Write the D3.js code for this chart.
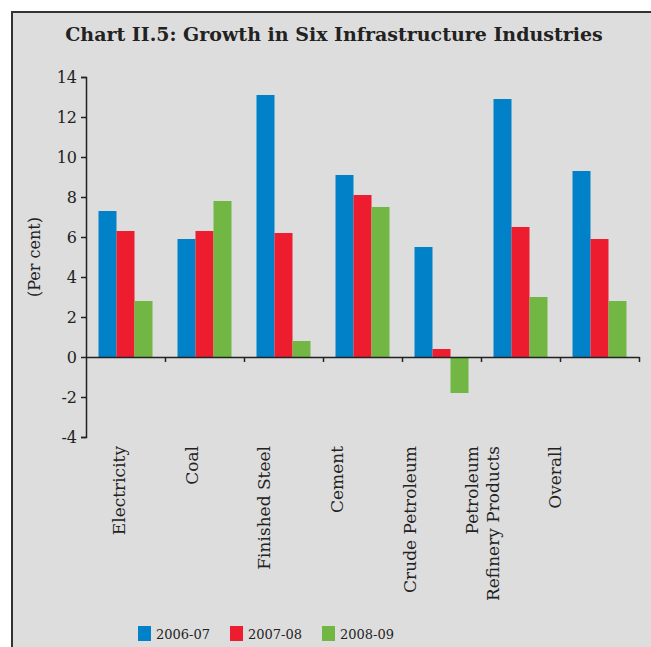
<!DOCTYPE html>
<html>
<head>
<meta charset="utf-8">
<script src="https://cdn.jsdelivr.net/npm/d3@7"></script>
<style>
  body { margin: 0; background: #fff; }
  text { font-family: "DejaVu Serif", serif; fill: #222; }
</style>
</head>
<body>
<div id="chart"></div>
<script>
// data
var categories = ["Electricity", "Coal", "Finished Steel", "Cement", "Crude Petroleum", "Petroleum Refinery Products", "Overall"];
var categoryLines = [["Electricity"], ["Coal"], ["Finished Steel"], ["Cement"], ["Crude Petroleum"], ["Petroleum", "Refinery Products"], ["Overall"]];
var seriesNames = ["2006-07", "2007-08", "2008-09"];
var values0607 = [7.3, 5.9, 13.1, 9.1, 5.5, 12.9, 9.3];
var values0708 = [6.3, 6.3, 6.2, 8.1, 0.4, 6.5, 5.9];
var values0809 = [2.8, 7.8, 0.8, 7.5, -1.8, 3.0, 2.8];
var yTicks = [-4, -2, 0, 2, 4, 6, 8, 10, 12, 14];

var colors = ["#0181c7", "#ee1c2f", "#72b744"];
var W = 651, H = 647;

var svg = d3.select("#chart").append("svg")
    .attr("width", W).attr("height", H);

// panel
svg.append("rect")
    .attr("x", 12).attr("y", 12)
    .attr("width", W + 10).attr("height", H + 10)
    .attr("fill", "#dddddd")
    .attr("stroke", "#333").attr("stroke-width", 2);

// title
svg.append("text")
    .attr("x", 334).attr("y", 41)
    .attr("text-anchor", "middle")
    .style("font-size", "19px")
    .style("font-weight", "bold")
    .text("Chart II.5: Growth in Six Infrastructure Industries");

// scales
var x0 = d3.scaleBand().domain(categories).range([86, 639]);
var x1 = d3.scaleBand().domain(seriesNames).range([0, 54]);
var groupOff = (x0.bandwidth() - 54) / 2;
var y = d3.scaleLinear().domain([-4, 14]).range([437, 77]);
// label positions in the original sit a little left of the bars
var xLabel = d3.scaleBand().domain(categories).range([83, 591]);

var table = categories.map(function(c, i) {
    return { cat: c, vals: [values0607[i], values0708[i], values0809[i]] };
});

// bars
var groups = svg.selectAll(".grp").data(table).enter().append("g")
    .attr("transform", function(d) { return "translate(" + (x0(d.cat) + groupOff) + ",0)"; });
groups.selectAll("rect")
    .data(function(d) { return d.vals.map(function(v, j) { return { s: seriesNames[j], v: v, j: j }; }); })
    .enter().append("rect")
    .attr("x", function(d) { return x1(d.s); })
    .attr("width", x1.bandwidth())
    .attr("y", function(d) { return y(Math.max(0, d.v)); })
    .attr("height", function(d) { return Math.abs(y(d.v) - y(0)); })
    .attr("fill", function(d) { return colors[d.j]; });

// y axis
var yAxis = d3.axisLeft(y).tickValues(yTicks).tickSize(5).tickPadding(4)
    .tickFormat(function(d) { return String(d); });
var yg = svg.append("g").attr("transform", "translate(86,0)").call(yAxis);
yg.selectAll("text").style("font-size", "16px").style("font-family", "DejaVu Serif, serif").attr("fill", "#222");
yg.selectAll("line, path").attr("stroke", "#222").attr("stroke-width", 1.5);

// zero line with separators
var xi = d3.scaleLinear().domain([0, 7]).range([86, 639]);
var xg = svg.append("g").attr("transform", "translate(0," + y(0) + ")")
    .call(d3.axisBottom(xi).tickValues([1, 2, 3, 4, 5, 6, 7]).tickFormat("").tickSize(5).tickSizeOuter(0));
xg.selectAll("line, path").attr("stroke", "#222").attr("stroke-width", 1.5);

// category labels
categoryLines.forEach(function(lines, i) {
    var cx = xLabel(categories[i]) + xLabel.bandwidth() / 2;
    var n = lines.length;
    lines.forEach(function(line, k) {
        var off = (k - (n - 1) / 2) * 21;
        svg.append("text")
            .attr("transform", "translate(" + (cx + off + 6) + ",446) rotate(-90)")
            .attr("text-anchor", "end")
            .style("font-size", "17px")
            .text(line);
    });
});

// y label
svg.append("text")
    .attr("transform", "translate(40,257) rotate(-90)")
    .attr("text-anchor", "middle")
    .style("font-size", "16px")
    .text("(Per cent)");

// legend
var legendX = [138, 230, 322];
seriesNames.forEach(function(s, i) {
    svg.append("rect").attr("x", legendX[i]).attr("y", 626)
        .attr("width", 13).attr("height", 15).attr("fill", colors[i]);
    svg.append("text").attr("x", legendX[i] + 18).attr("y", 639)
        .style("font-size", "13px").text(s);
});
</script>
</body>
</html>
